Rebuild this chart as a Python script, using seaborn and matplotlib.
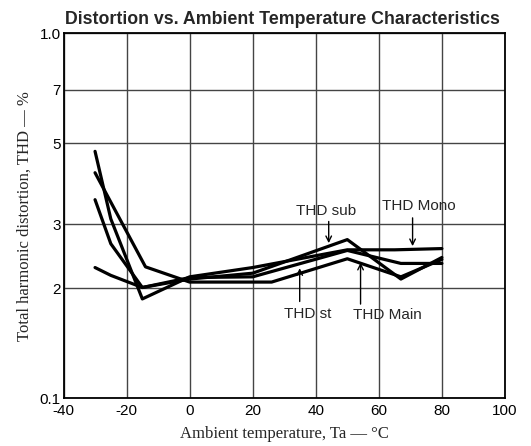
import matplotlib
matplotlib.use("Agg")
import matplotlib.pyplot as plt
import seaborn as sns
import pandas as pd
import numpy as np

# Data (temperature in degC, THD in %)
temps_mono = [-30, -25, -15, 0, 20, 50, 65, 80]
thd_mono = [4.75, 3.1, 1.87, 2.15, 2.28, 2.55, 2.55, 2.57]
temps_main = [-30, -14, 0, 26, 50, 67, 80]
thd_main = [4.15, 2.29, 2.08, 2.08, 2.41, 2.15, 2.40]
temps_sub = [-30, -25, -15, 0, 20, 50, 67, 80]
thd_sub = [3.5, 2.65, 2.01, 2.12, 2.2, 2.72, 2.12, 2.43]
temps_st = [-30, -25, -15, 0, 20, 50, 67, 80]
thd_st = [2.28, 2.17, 2.01, 2.14, 2.15, 2.54, 2.34, 2.34]

x_ticks = [-40, -20, 0, 20, 40, 60, 80, 100]
y_ticks = [1, 2, 3, 5, 7, 10]
y_tick_labels = ["0.1", "2", "3", "5", "7", "1.0"]

frames = []
for name, t, v in [("Mono", temps_mono, thd_mono), ("Main", temps_main, thd_main),
                   ("sub", temps_sub, thd_sub), ("st", temps_st, thd_st)]:
    frames.append(pd.DataFrame({"T": t, "THD": v, "series": name}))
df = pd.concat(frames, ignore_index=True)

sns.set_style("white")
plt.rcParams['font.family'] = ['Liberation Sans', 'DejaVu Sans']

fig = plt.figure(figsize=(5.31, 4.46), dpi=100)
ax = fig.add_axes([0.1196, 0.1076, 0.9510 - 0.1196, 0.9249 - 0.1076])

sns.lineplot(data=df, x="T", y="THD", hue="series", units="series", estimator=None,
             sort=False, palette=["black"] * 4, linewidth=2.3, legend=False, ax=ax)

ax.set_yscale("log")
ax.set_xlim(-40, 100)
ax.set_ylim(1, 10)
ax.set_xticks(x_ticks)
ax.set_xticklabels([str(t) for t in x_ticks])
ax.set_yticks(y_ticks)
ax.set_yticklabels(y_tick_labels)
ax.yaxis.set_minor_locator(matplotlib.ticker.NullLocator())
ax.tick_params(axis="both", length=0, labelsize=11, colors="black")
ax.tick_params(axis="x", pad=4)
ax.tick_params(axis="y", pad=2)

ax.grid(True, which="major", color="#444444", linewidth=1.0)
for s in ax.spines.values():
    s.set_color("black")
    s.set_linewidth(1.3)

ax.set_xlabel("Ambient temperature, Ta \u2014 \u00b0C", family=["Liberation Serif", "DejaVu Serif"],
              fontsize=12, labelpad=6)
ax.set_ylabel("Total harmonic distortion, THD \u2014 %", family=["Liberation Serif", "DejaVu Serif"],
              fontsize=12, labelpad=5)
fig.text(0.532, 0.957, "Distortion vs. Ambient Temperature Characteristics",
         ha="center", va="center", fontsize=12.8, fontweight="bold",
         family=["Liberation Sans", "DejaVu Sans"])

# annotations
labels = [("THD sub", 43.2, 3.26, 44.1, 3.05, 44.1, 2.66),
          ("THD Mono", 72.6, 3.36, 70.7, 3.12, 70.7, 2.61),
          ("THD st", 37.4, 1.70, 34.9, 1.84, 34.9, 2.27),
          ("THD Main", 62.8, 1.69, 54.2, 1.81, 54.2, 2.35)]
for txt, tx, ty, ax0, ay0, ax1, ay1 in labels:
    ax.text(tx, ty, txt, ha="center", va="center", fontsize=11)
    ax.annotate("", xy=(ax1, ay1), xytext=(ax0, ay0),
                arrowprops=dict(arrowstyle="->", color="black", lw=1.0,
                                shrinkA=0, shrinkB=0, mutation_scale=10))

fig.savefig("out.png", dpi=100, facecolor="white")
